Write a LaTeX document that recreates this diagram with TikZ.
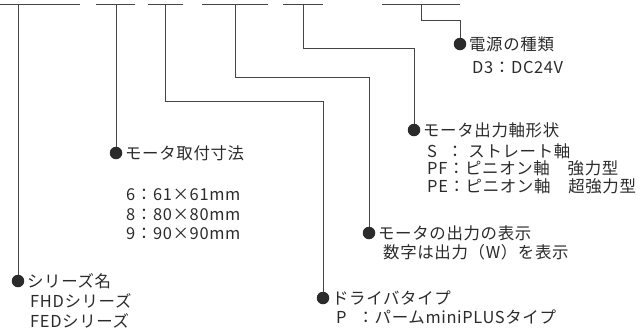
\documentclass[tikz,border=0pt]{standalone}
\usepackage{fontspec}
\setmainfont{Noto Sans CJK JP}[LetterSpace=4]
\usetikzlibrary{positioning}
\definecolor{inkgray}{HTML}{2B2B2B}
\definecolor{linegray}{HTML}{444444}
\tikzset{
  wire/.style={draw=linegray, line width=0.9bp},
  dot/.style={circle, fill=inkgray, inner sep=0pt, minimum size=12.5bp},
  head/.style={inner sep=0pt, text=inkgray, font=\fontsize{16.5}{19}\selectfont},
  sub/.style={inner sep=0pt, text=inkgray, align=left, anchor=north west,
    font=\fontsize{16.5}{20}\selectfont}
}
\begin{document}
\begin{tikzpicture}[x=1bp, y=-1bp]
    \useasboundingbox (0,0) rectangle (640,334);

    % Barre del codice
    \foreach \a/\b in {0/80, 96/135, 148/183, 202/268, 283/323, 382/460}
        \draw[wire] (\a,4.5) -- (\b,4.5);

    % Punti di attacco e pieghe
    \coordinate (t1) at (18,4.5);
    \coordinate (t2) at (116,4.5);
    \coordinate (t3) at (165,4.5);
    \coordinate (t4) at (235,4.5);
    \coordinate (t5) at (303,4.5);
    \coordinate (t6) at (421,4.5);
    \coordinate (b3) at (165,101);
    \coordinate (b4) at (235,77);
    \coordinate (b5) at (303,48);
    \coordinate (b6) at (421,20);

    % Pallini
    \node[dot] (d1) at (18,281) {};
    \node[dot] (d2) at (116,153) {};
    \node[dot] (d3) at (323,298) {};
    \node[dot] (d4) at (369,233) {};
    \node[dot] (d5) at (414,130) {};
    \node[dot] (d6) at (460,44) {};

    % Collegamenti
    \draw[wire] (t1) -- (d1);
    \draw[wire] (t2) -- (d2);
    \draw[wire] (t3) -- (b3) -| (d3);
    \draw[wire] (t4) -- (b4) -| (d4);
    \draw[wire] (t5) -- (b5) -| (d5);
    \draw[wire] (t6) -- (b6) -| (d6);

    % Serie
    \node[head, right=2.5bp of d1] (h1) {シリーズ名};
    \node[sub] (s1) at (30,293) {
        FHDシリーズ \\
        FEDシリーズ
    };

    % Dimensioni motore
    \node[head, right=2.5bp of d2] (h2) {モータ取付寸法};
    \node[sub] (s2) at (126,188) {
        6：61×61mm \\
        8：80×80mm \\
        9：90×90mm
    };

    % Driver
    \node[head, right=2.5bp of d3] (h3) {ドライバタイプ};
    \node[sub] (s3) at (336,310) {P\hspace{11bp}：パームminiPLUSタイプ};

    % Potenza
    \node[head, right=2.5bp of d4] (h4) {モータの出力の表示};
    \node[sub] (s4) at (383,244) {数字は出力（W）を表示};

    % Albero
    \node[head, right=2.5bp of d5] (h5) {モータ出力軸形状};
    \node[sub, font=\fontsize{16.5}{18}\selectfont] (s5) at (427,143) {
        S\hspace{10bp}：\hspace{5bp}ストレート軸 \\
        PF：ピニオン軸　強力型 \\
        PE：ピニオン軸　超強力型
    };

    % Alimentazione
    \node[head, right=2.5bp of d6] (h6) {電源の種類};
    \node[sub] (s6) at (472,61) {D3：DC24V};
\end{tikzpicture}
\end{document}
